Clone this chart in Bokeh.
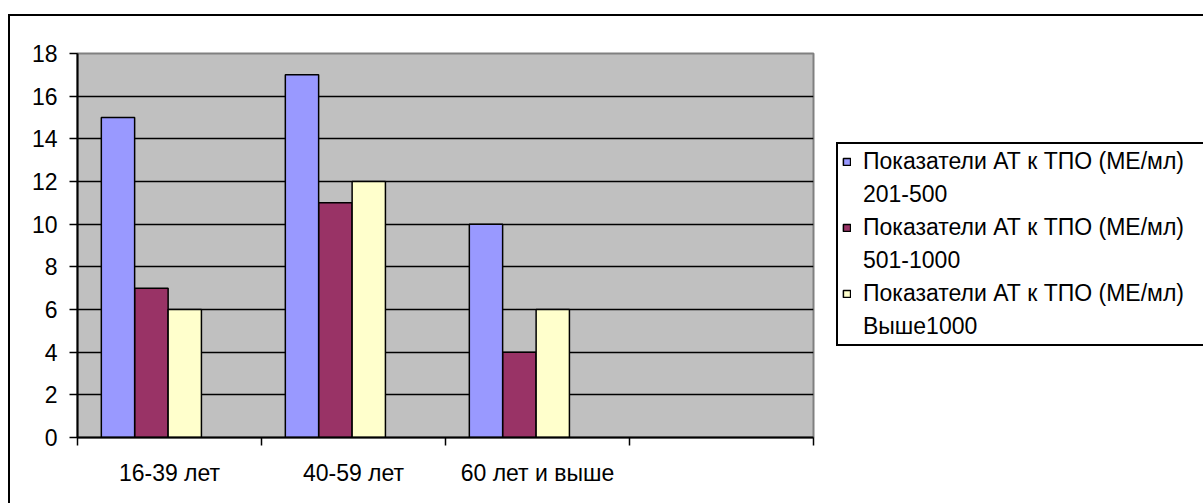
from bokeh.plotting import figure
from bokeh.models import FixedTicker, Legend, LegendItem, Range1d
from bokeh.layouts import row
from bokeh.transform import dodge
from bokeh.embed import file_html
from bokeh.resources import INLINE

categories = ["16-39 лет", "40-59 лет", "60 лет и выше", ""]
series_names = [
    "Показатели АТ к ТПО (МЕ/мл)\n201-500",
    "Показатели АТ к ТПО (МЕ/мл)\n501-1000",
    "Показатели АТ к ТПО (МЕ/мл)\nВыше1000",
]
s1 = [15, 17, 10]
s2 = [7, 11, 4]
s3 = [6, 12, 6]
colors = ["#9999FF", "#993366", "#FFFFCC"]
y_ticks = [0, 2, 4, 6, 8, 10, 12, 14, 16, 18]

FONT = "Liberation Sans"
FS = "23px"

# row placed at page (8, 14) with a 2px border -> canvases start at (10, 16)
H = 487
W1 = 810
W2 = 1193 - W1
FL, FT, FR, FB = 67, 37, 803, 421
p = figure(width=W1, height=H, output_backend="svg", toolbar_location=None,
           x_range=Range1d(0, len(categories)), y_range=Range1d(0, 18),
           min_border_left=FL, min_border_right=W1 - FR,
           min_border_top=FT, min_border_bottom=H - FB)
p.background_fill_color = "#C0C0C0"
p.border_fill_color = "white"
p.outline_line_color = "#808080"
p.outline_line_width = 2

xpos = [i + 0.5 for i in range(len(s1))]
data = dict(x=xpos, s1=s1, s2=s2, s3=s3)
bw = 0.181
offsets = [-0.280, -0.098, 0.083]
for key, off, col in zip(["s1", "s2", "s3"], offsets, colors):
    p.vbar(x=dodge("x", off), top=key, width=bw, source=data,
           fill_color=col, line_color="black", line_width=1.5)

p.xgrid.visible = False
p.ygrid.grid_line_color = "black"
p.ygrid.grid_line_width = 1.5
p.ygrid.ticker = FixedTicker(ticks=y_ticks)

yax = p.yaxis[0]
yax.ticker = FixedTicker(ticks=y_ticks, minor_ticks=[])
yax.axis_line_color = "black"
yax.axis_line_width = 2
yax.major_tick_out = 8
yax.major_tick_in = 0
yax.major_tick_line_width = 1.5
yax.minor_tick_out = 0
yax.major_label_standoff = 12
yax.major_label_text_font = FONT
yax.major_label_text_font_size = FS
yax.major_label_text_color = "black"

xax = p.xaxis[0]
xax.ticker = FixedTicker(ticks=[i + 0.5 for i in range(len(categories))],
                         minor_ticks=list(range(len(categories) + 1)))
xax.major_label_overrides = {i + 0.5: c for i, c in enumerate(categories)}
xax.axis_line_color = "black"
xax.axis_line_width = 2
xax.major_tick_out = 0
xax.major_tick_in = 0
xax.minor_tick_out = 8
xax.minor_tick_in = 0
xax.minor_tick_line_width = 1.5
xax.minor_tick_line_color = "black"
xax.major_label_standoff = 14
xax.major_label_text_font = FONT
xax.major_label_text_font_size = FS
xax.major_label_text_color = "black"

# legend panel (swatch renderers share the data but are hidden)
p2 = figure(width=W2, height=H, output_backend="svg", toolbar_location=None,
            x_range=Range1d(0, 1), y_range=Range1d(0, 1),
            min_border_left=0, min_border_right=0,
            min_border_top=0, min_border_bottom=0)
p2.axis.visible = False
p2.grid.visible = False
p2.outline_line_color = None
p2.background_fill_color = "white"
p2.border_fill_color = "white"

items = []
for key, name, col in zip(["s1", "s2", "s3"], series_names, colors):
    first, second = name.split("\n")
    sw = p2.vbar(x="x", top=key, width=bw, source=data, fill_color=col,
                 line_color="black", line_width=1.5, visible=False)
    dummy = p2.vbar(x="x", top=key, width=bw, source=data,
                    fill_alpha=0, line_alpha=0, visible=False)
    items.append(LegendItem(label=first, renderers=[sw]))
    items.append(LegendItem(label=second, renderers=[dummy]))
legend = Legend(items=items, location=(16, 91))
legend.label_text_font = FONT
legend.label_text_font_size = FS
legend.label_text_color = "black"
legend.label_text_line_height = 1.0
legend.label_height = 26
legend.label_width = 380
legend.glyph_height = 9
legend.glyph_width = 9
legend.spacing = 6
legend.padding = 4
legend.margin = 0
legend.label_standoff = 12
legend.inactive_fill_alpha = 0
legend.border_line_color = "black"
legend.border_line_width = 2
legend.border_line_alpha = 1
legend.background_fill_color = "white"
legend.background_fill_alpha = 1
p2.add_layout(legend, "center")

layout = row(p, p2, spacing=0)
layout.styles = {"margin-left": "8px", "margin-top": "14px",
                 "border-left": "2px solid black", "border-top": "2px solid black"}

open("out.html", "w").write(file_html(layout, INLINE))
